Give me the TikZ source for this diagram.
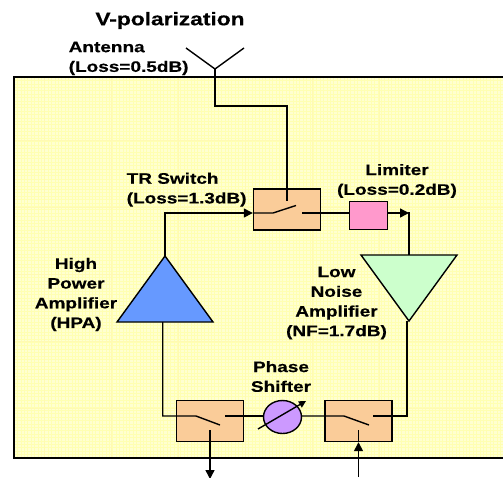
\documentclass[tikz,border=0pt]{standalone}
\usepackage{fontspec}
\setmainfont[FakeStretch=1.25,BoldFeatures={FakeStretch=1.25,FakeBold=0.5}]{Liberation Sans}
\usetikzlibrary{arrows.meta,shapes.geometric}
\definecolor{bgY}{RGB}{255,255,208}
\definecolor{bgG}{RGB}{255,255,178}
\definecolor{bgH}{RGB}{255,250,178}
\definecolor{swF}{RGB}{250,204,153}
\definecolor{limF}{RGB}{255,153,204}
\definecolor{lnaF}{RGB}{204,255,204}
\definecolor{hpaF}{RGB}{102,153,255}
\definecolor{psF}{RGB}{204,153,255}
\tikzset{
  x=1pt,y=-1pt,
  lbl/.style={font=\fontsize{15.2}{19.7}\selectfont\bfseries,align=center,inner sep=0pt,text=black},
  wire/.style={line width=1.4pt,line join=miter},
  arr/.style={wire,-{Triangle[length=9pt,width=9pt]}},
  swbox/.style={draw=black,line width=1.4pt,fill=swF,minimum width=67pt,minimum height=41pt,inner sep=0pt},
  limbox/.style={draw=black,line width=1.4pt,fill=limF,minimum width=38pt,minimum height=28pt,inner sep=0pt},
  psell/.style={draw=black,line width=1.4pt,fill=psF,ellipse,minimum width=38pt,minimum height=33pt,inner sep=0pt}
}
\begin{document}
\begin{tikzpicture}
\useasboundingbox (0,0) rectangle (503,477);
\fill[white] (0,0) rectangle (503,477);
% panel
\fill[bgY] (14,77) rectangle (503,458);
\begin{scope}
\clip (14,77) rectangle (503,458);
\foreach \x in {14,17.4,...,503}{\draw[bgG,line width=.6pt] (\x,77) -- (\x,458);}
\foreach \y in {77,80.4,...,458}{\draw[bgG,line width=.6pt] (14,\y) -- (503,\y);}
\foreach \x in {44,111,...,503}{\draw[bgH,line width=.7pt] (\x,77) -- (\x,458);}
\foreach \y in {140,207,...,458}{\draw[bgH,line width=.7pt] (14,\y) -- (503,\y);}
\end{scope}
\coordinate (pnw) at (14,77); \coordinate (pne) at (503,77);
\coordinate (psw) at (14,458); \coordinate (pse) at (503,458);
\draw[line width=1.5pt] (pne) -- (pnw) -- (psw) -- (pse);
% labels
\node[lbl,font=\fontsize{18.2}{22}\selectfont\bfseries] (vp) at (170,20.5) {V-polarization};
\node[lbl,anchor=north west,align=left] (ant) at (68.5,41.5) {Antenna\\(Loss=0.5dB)};
\node[lbl,anchor=north west,align=left] (trl) at (126.5,172.5) {TR Switch\\(Loss=1.3dB)};
\node[lbl] (liml) at (397,181) {Limiter\\(Loss=0.2dB)};
\node[lbl] (hpal) at (76,294.5) {High\\Power\\Amplifier\\(HPA)};
\node[lbl] (lnal) at (336.5,303) {Low\\Noise\\Amplifier\\(NF=1.7dB)};
\node[lbl] (psl) at (281,376.5) {Phase\\Shifter};
% antenna
\coordinate (af) at (215,69);
\coordinate (al) at (186,48);
\coordinate (ar) at (244,48);
\draw[wire] (al) -- (af) -- (ar);
% boxes
\node[swbox] (tr) at (287,209.5) {};
\node[limbox] (lim) at (368.5,215.5) {};
\node[swbox] (s1) at (210,421) {};
\node[swbox] (s2) at (358.5,421) {};
\node[psell] (ps) at (282.5,417) {};
% amplifiers
\coordinate (ha) at (165,256); \coordinate (hl) at (117,322); \coordinate (hr) at (213,322);
\filldraw[fill=hpaF,line width=1.4pt,line join=miter] (ha) -- (hl) -- (hr) -- cycle;
\coordinate (la) at (409,321); \coordinate (ll) at (361,255); \coordinate (lr) at (457,255);
\filldraw[fill=lnaF,line width=1.4pt,line join=miter] (la) -- (ll) -- (lr) -- cycle;
% TR switch internals
\coordinate (trin) at (273,213);
\coordinate (trtip) at (296,205.5);
\coordinate (trout) at (302,213);
\coordinate (trcom) at (287,201);
\coordinate (lnatop) at (409,255);
\draw[wire] (af) -- (215,106) -- (287,106) -- (trcom);
\draw[wire] (tr.west|-trin) -- (trin) -- (trtip);
\draw[wire] (trout) -- (lim.west|-trout);
\draw[arr] (ha) -- (165,213) -- (tr.west|-trin);
\draw[arr] (lim.east|-trout) -- (409,213);
\draw[wire] (409,212.3) -- (lnatop);
% lower
\coordinate (s1in) at (196,416); \coordinate (s1tip) at (220,425); \coordinate (s1out) at (225,416);
\coordinate (s1c) at (210,430);
\draw[wire] (162.7,322) -- (162.7,416) -- (s1in) -- (s1tip);
\draw[wire] (s1out) -- (ps.west|-s1out);
\coordinate (s1d) at (210,479);
\draw[arr] (s1c) -- (s1d);
\coordinate (s2in) at (344,416); \coordinate (s2tip) at (369,425); \coordinate (s2out) at (373,416);
\coordinate (s2c) at (358.5,430);
\draw[wire] (ps.east|-s2in) -- (s2in) -- (s2tip);
\draw[wire] (s2out) -- (407,416) -- (407,321);
\coordinate (s2d) at (358.5,477);
\draw[wire] (s2.south) -- (s2c);
\draw[arr] (s2d) -- (s2.south);
\coordinate (psa) at (258,429); \coordinate (psb) at (306,401);
\draw[line width=1.4pt,-{Triangle[length=7pt,width=7pt]}] (psa) -- (psb);
\end{tikzpicture}
\end{document}
